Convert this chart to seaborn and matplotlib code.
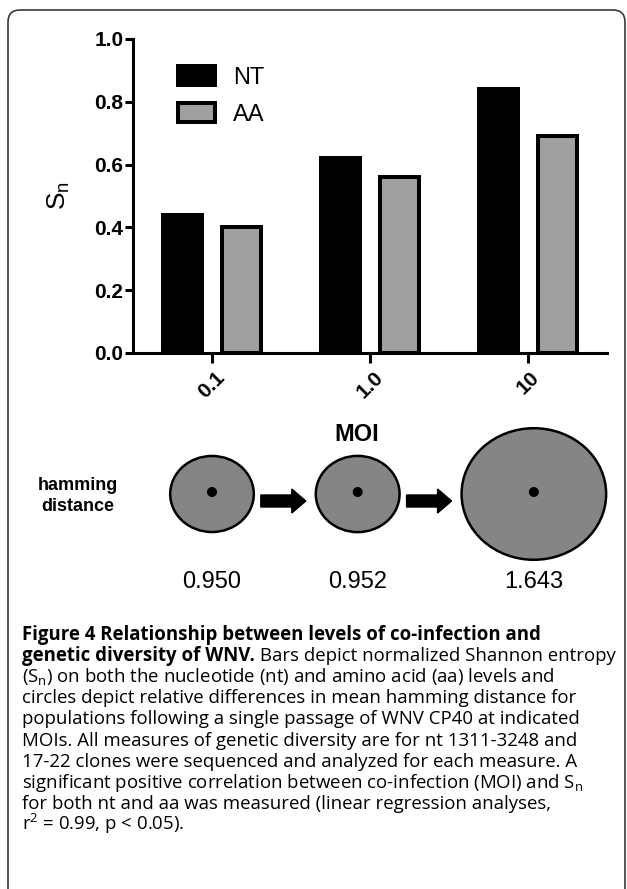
import numpy as np
import pandas as pd
import seaborn as sns
import matplotlib.pyplot as plt
import matplotlib.transforms as mtrans
from matplotlib import font_manager
from matplotlib.patches import Ellipse, FancyBboxPatch, FancyArrow

# data
moi = ['0.1', '1.0', '10']
nt = [0.44, 0.62, 0.84]
aa = [0.40, 0.56, 0.69]
hamming = [0.950, 0.952, 1.643]
yticks = [0.0, 0.2, 0.4, 0.6, 0.8, 1.0]

caption_head = "Figure 4 Relationship between levels of co-infection and"
caption_bold2 = "genetic diversity of WNV."
caption_rest2 = " Bars depict normalized Shannon entropy"
caption_lines = [
    "(S$_\\mathrm{n}$) on both the nucleotide (nt) and amino acid (aa) levels and",
    "circles depict relative differences in mean hamming distance for",
    "populations following a single passage of WNV CP40 at indicated",
    "MOIs. All measures of genetic diversity are for nt 1311-3248 and",
    "17-22 clones were sequenced and analyzed for each measure. A",
    "significant positive correlation between co-infection (MOI) and S$_\\mathrm{n}$",
    "for both nt and aa was measured (linear regression analyses,",
    "r$^2$ = 0.99, p < 0.05).",
]

df = pd.DataFrame({'MOI': moi * 2, 'Sn': nt + aa, 'level': ['NT'] * 3 + ['AA'] * 3})

sns.set_style('ticks', rc={'text.color': 'black', 'axes.labelcolor': 'black',
                           'xtick.color': 'black', 'ytick.color': 'black',
                           'axes.edgecolor': 'black'})
names = {f.name for f in font_manager.fontManager.ttflist}
narrow = ['Liberation Sans Narrow', 'Liberation Sans'] if 'Liberation Sans Narrow' in names else ['Liberation Sans']
plt.rcParams['font.family'] = ['Liberation Sans', 'DejaVu Sans']
plt.rcParams['mathtext.fontset'] = 'custom'
plt.rcParams['mathtext.rm'] = 'Open Sans'
plt.rcParams['mathtext.sf'] = 'Liberation Sans'

W, H = 627, 889
fig = plt.figure(figsize=(W / 100, H / 100), dpi=100)
ax = fig.add_axes([133 / W, 1 - 353 / H, (607 - 133) / W, (353 - 39) / H])

sns.barplot(data=df, x='MOI', y='Sn', hue='level', palette={'NT': 'black', 'AA': '#a0a0a0'},
            width=0.75, gap=0.34, edgecolor='black', linewidth=2.9, saturation=1, ax=ax)
ax.set_xlim(-0.5, 2.5)
ax.set_ylim(0, 1.0)
sns.despine(ax=ax)
for s in ['left', 'bottom']:
    ax.spines[s].set_linewidth(2.2)

ax.set_yticks(yticks)
ax.set_yticklabels([f'{v:.1f}' for v in yticks], fontweight='bold', fontsize=15, family=narrow)
ax.set_xticks(range(len(moi)))
ax.set_xticklabels(moi, rotation=45, ha='center', fontweight='bold', fontsize=15, family=narrow)
shift = mtrans.ScaledTranslation(-6 / 100, 0, fig.dpi_scale_trans)
for lab in ax.get_xticklabels():
    lab.set_transform(lab.get_transform() + shift)
ax.tick_params(axis='y', length=6, width=2.2, pad=1)
ax.tick_params(axis='x', length=7, width=2.2, pad=4)

ax.set_ylabel('S$_\\mathsf{n}$', fontsize=19)
ax.yaxis.set_label_coords(-0.128, 0.5)
ax.set_xlabel('MOI', fontsize=17, fontweight='bold')
ax.xaxis.set_label_coords(0.473, -0.222)

ax.legend(loc='upper left', bbox_to_anchor=(0.095, 0.914), frameon=False,
          prop={'family': narrow, 'size': 17},
          handlelength=1.57, handleheight=0.85, handletextpad=0.76, labelspacing=0.63,
          borderpad=0, borderaxespad=0)

# overlay axes in pixel units for the hamming distance row, caption and frame
ov = fig.add_axes([0, 0, 1, 1])
ov.set_xlim(0, W)
ov.set_ylim(0, H)
ov.axis('off')

ov.add_patch(FancyBboxPatch((8, -40), 617, H - 10 + 40, boxstyle='round,pad=0,rounding_size=12',
                            fc='none', ec='#3a3a3a', lw=1.2, clip_on=False))

k = 44.0      # px per unit of hamming distance (horizontal radius)
aspect = 0.91
cy = H - 494
arrow_len, gap_l, gap_r = 45, 7, 10
x0 = ax.transData.transform((0, 0))[0]
cx = []
for i, v in enumerate(hamming):
    if i == 0:
        cx.append(x0)
    else:
        cx.append(cx[-1] + k * hamming[i - 1] + gap_l + arrow_len + gap_r + k * v)
for i, v in enumerate(hamming):
    ov.add_patch(Ellipse((cx[i], cy), 2 * k * v, 2 * k * v * aspect, fc='#858585', ec='black', lw=1.8))
    ov.add_patch(Ellipse((cx[i], cy + 2), 10, 10, fc='black', ec='none'))
    ov.text(cx[i], H - 582, f'{v:.3f}', ha='center', va='center', fontsize=17)
    if i < len(hamming) - 1:
        xs = cx[i] + k * v + gap_l
        ov.add_patch(FancyArrow(xs, H - 501, arrow_len, 0, width=12, head_width=24, head_length=14,
                                length_includes_head=True, color='black'))

ov.text(78, H - 496, 'hamming\ndistance', ha='center', va='center', fontsize=13,
        fontweight='bold', linespacing=1.25)

# caption
cap_font = ['Open Sans', 'DejaVu Sans']
cap_size = 13.4
base = 640
pitch = 21.1
ov.text(22, H - base, caption_head, fontsize=cap_size, family=cap_font, fontweight='bold', va='baseline')
tb = ov.text(22, H - base - pitch, caption_bold2, fontsize=cap_size, family=cap_font,
             fontweight='bold', va='baseline')
r = fig.canvas.get_renderer()
wb = tb.get_window_extent(r).width
ov.text(22 + wb, H - base - pitch, caption_rest2, fontsize=cap_size, family=cap_font, va='baseline')
for j, line in enumerate(caption_lines):
    ov.text(22, H - base - pitch * (j + 2), line, fontsize=cap_size, family=cap_font, va='baseline')

fig.savefig('out.png', dpi=100)
